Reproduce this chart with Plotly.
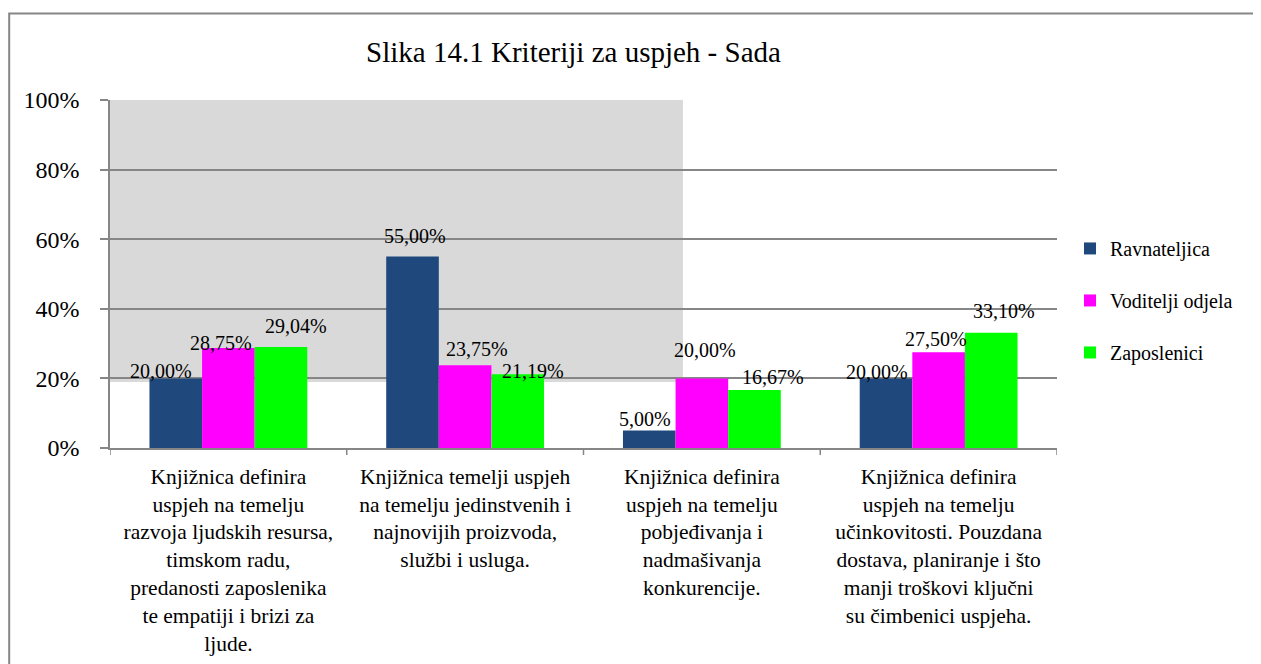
import plotly.graph_objects as go

categories = [
    "Knjižnica definira<br>uspjeh na temelju<br>razvoja ljudskih resursa,<br>timskom radu,<br>predanosti zaposlenika<br>te empatiji i brizi za<br>ljude.",
    "Knjižnica temelji uspjeh<br>na temelju jedinstvenih i<br>najnovijih proizvoda,<br>službi i usluga.",
    "Knjižnica definira<br>uspjeh na temelju<br>pobjeđivanja i<br>nadmašivanja<br>konkurencije.",
    "Knjižnica definira<br>uspjeh na temelju<br>učinkovitosti. Pouzdana<br>dostava, planiranje i što<br>manji troškovi ključni<br>su čimbenici uspjeha.",
]
series_names = ["Ravnateljica", "Voditelji odjela", "Zaposlenici"]
ravnateljica = [20.00, 55.00, 5.00, 20.00]
voditelji_odjela = [28.75, 23.75, 20.00, 27.50]
zaposlenici = [29.04, 21.19, 16.67, 33.10]
y_ticks = [0, 20, 40, 60, 80, 100]
y_tick_labels = ["0%", "20%", "40%", "60%", "80%", "100%"]
title_text = "Slika 14.1 Kriteriji za uspjeh - Sada"

series_values = [ravnateljica, voditelji_odjela, zaposlenici]
colors = ["#1F497D", "#FF00FF", "#00FF00"]

# manual label nudges (pixels) as in the original chart
label_dx = [[-15, 2, -4, -9], [-7, 12, 3, -3], [15, 15, 19, 13]]
label_dy = [[-1, 13, 4, -2], [-3, 8, 20, 5], [13, -5, 5, 14]]

FONT = "Liberation Serif"
BARGAP = 1 / 3

W, H = 1253, 656          # page body has an 8px margin
L, T = 102, 92
PW, PH = 947, 348

fig = go.Figure()
for i, (name, vals) in enumerate(zip(series_names, series_values)):
    fig.add_trace(go.Bar(
        x=list(range(len(categories))), y=vals, name=name,
        marker=dict(color=colors[i], line=dict(width=0)),
        legendgroup=name,
    ))

annotations = []
n = len(series_names)
w = (1 - BARGAP) / n
for i, vals in enumerate(series_values):
    for k, v in enumerate(vals):
        xpos = k - (1 - BARGAP) / 2 + w * (i + 0.5)
        annotations.append(dict(
            x=xpos, y=v, xref="x", yref="y",
            text=f"{v:.2f}".replace(".", ",") + "%",
            showarrow=False, yanchor="bottom", xanchor="center",
            xshift=label_dx[i][k], yshift=label_dy[i][k] - 5,
            font=dict(family=FONT, size=20, color="#000000"),
        ))

shapes = [
    dict(type="rect", xref="x domain", yref="y", x0=0, x1=0.605, y0=19, y1=100,
         fillcolor="#D9D9D9", line=dict(width=0), layer="below"),
    dict(type="rect", xref="paper", yref="paper",
         x0=(1.2 - L) / PW, x1=1.4, y0=-1.5, y1=(T + PH - 5.5) / PH,
         fillcolor="rgba(0,0,0,0)", line=dict(color="#868686", width=2), layer="below"),
]
for b in range(len(categories) + 1):
    shapes.append(dict(type="line", xref="x", yref="paper", x0=b - 0.5, x1=b - 0.5,
                       y0=0, y1=-7 / PH, line=dict(color="#868686", width=1.5)))

fig.update_layout(
    width=W, height=H, autosize=False,
    margin=dict(l=L, r=W - L - PW, t=T, b=H - T - PH, pad=0),
    paper_bgcolor="white", plot_bgcolor="white",
    font=dict(family=FONT, color="#000000"),
    title=dict(text=title_text, x=565.5 / W, xanchor="center", xref="container",
               y=1 - 44 / H, yanchor="middle", yref="container",
               font=dict(family=FONT, size=29, color="#000000")),
    barmode="group", bargap=BARGAP, bargroupgap=0,
    showlegend=True,
    legend=dict(x=1.0137, xanchor="left", y=0.424, yanchor="middle",
                font=dict(family=FONT, size=20, color="#000000"),
                tracegroupgap=23, bgcolor="rgba(0,0,0,0)"),
    annotations=annotations,
    shapes=shapes,
)
fig.update_xaxes(
    type="linear", range=[-0.5, len(categories) - 0.5],
    tickmode="array", tickvals=list(range(len(categories))), ticktext=categories,
    ticks="", showline=True, linecolor="#868686", linewidth=1.5,
    showgrid=False, zeroline=False, automargin=False, tickangle=0,
    tickfont=dict(family=FONT, size=21.5, color="#000000"),
    ticklabelstandoff=8,
)
fig.update_yaxes(
    range=[0, 100], tickmode="array", tickvals=y_ticks, ticktext=y_tick_labels,
    showgrid=True, gridcolor="#868686", gridwidth=1.5,
    showline=True, linecolor="#868686", linewidth=1.5,
    ticks="outside", ticklen=8, tickcolor="#868686", tickwidth=1.5,
    zeroline=False, automargin=False,
    tickfont=dict(family=FONT, size=24, color="#000000"),
    ticklabelstandoff=16,
)

fig.write_html("out.html")
